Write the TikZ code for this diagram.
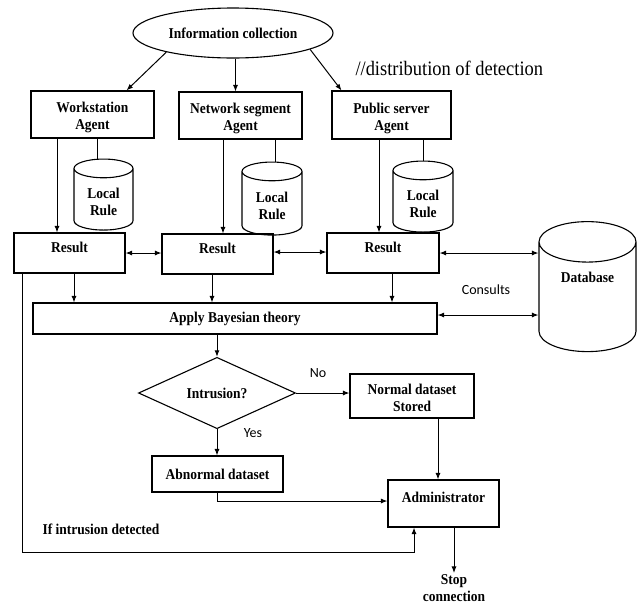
\documentclass[tikz,border=0pt]{standalone}
\usepackage{fontspec}
\newfontfamily\tnr[FakeStretch=0.9]{Liberation Serif}
\newfontfamily\calfont{Carlito}
\usetikzlibrary{arrows.meta,shapes.geometric}
\begin{document}
\begin{tikzpicture}[x=1pt,y=-1pt,
  line width=1pt, >={Latex[length=6.5pt,width=5pt]},
  bfont/.style={font=\tnr\bfseries\fontsize{15}{17}\selectfont},
  box/.style={bfont, draw, line width=1.1pt, rectangle, inner sep=0pt, align=center},
  twoline/.style={text height=30pt, text depth=0pt},
  cyl/.style={bfont, draw, line width=1.1pt, cylinder, shape border rotate=90, aspect=0.58, inner sep=0pt, align=center},
  lbl/.style={font=\calfont\fontsize{14}{16}\selectfont, inner sep=0pt}
]
\useasboundingbox (0,0) rectangle (639,606);

% top
\node[bfont, draw, line width=1.1pt, ellipse, minimum width=200pt, minimum height=50pt, inner sep=0pt] (info) at (233,33) {Information collection};
\node[font=\tnr\fontsize{20.5}{22}\selectfont, anchor=west, inner sep=0pt] (dist) at (355,68) {//distribution of detection};

% agents
\node[box, twoline, minimum width=123pt, minimum height=47pt] (ws) at (92.5,114.5) {Workstation\\Agent};
\node[box, twoline, minimum width=123pt, minimum height=47pt] (ns) at (240.5,115.5) {Network segment\\Agent};
\node[box, twoline, minimum width=119pt, minimum height=48pt] (ps) at (391.5,115) {Public server\\Agent};

% local rules
\node[cyl, minimum width=59pt, minimum height=71pt, text height=31pt, text depth=0pt] (lr1) at (103.5,199.5) {Local\\Rule};
\node[cyl, minimum width=60pt, minimum height=73pt, text height=31pt, text depth=0pt] (lr2) at (272,203.5) {Local\\Rule};
\node[cyl, minimum width=60pt, minimum height=71pt, text height=31pt, text depth=0pt] (lr3) at (423,201.5) {Local\\Rule};

% results
\node[box, minimum width=111pt, minimum height=40pt, text height=8pt, text depth=10pt] (r1) at (69.5,253) {Result};
\node[box, minimum width=111pt, minimum height=40pt, text height=8pt, text depth=10pt] (r2) at (217.5,254) {Result};
\node[box, minimum width=112pt, minimum height=40pt, text height=8pt, text depth=10pt] (r3) at (383,253) {Result};

% database
\node[cyl, aspect=0.76, minimum width=97pt, minimum height=130pt, text height=5pt, text depth=35pt] (db) at (587.5,297) {Database};
\node[lbl] (cons) at (486,290) {Consults};

% bayes
\node[box, minimum width=404pt, minimum height=31pt] (bay) at (235,318.5) {Apply Bayesian theory};

% decision
\node[bfont, draw, line width=1.1pt, diamond, minimum width=157pt, minimum height=53pt, inner sep=0pt] (intr) at (217,393) {Intrusion?};
\node[lbl] (no) at (318,373) {No};
\node[lbl] (yes) at (253,433) {Yes};

\node[box, twoline, minimum width=124pt, minimum height=44pt] (nds) at (412,396) {Normal dataset\\Stored};
\node[box, minimum width=131pt, minimum height=36pt] (abn) at (217.5,474) {Abnormal dataset};
\node[box, minimum width=111pt, minimum height=47pt, text height=8pt, text depth=11pt] (adm) at (443.5,503.5) {Administrator};

\node[bfont, anchor=west, inner sep=0pt] (ifd) at (42,529) {If intrusion detected};
\node[bfont, align=center, inner sep=1pt] (stop) at (454,588) {Stop\\connection};

\coordinate (fb) at (0,552);

% connectors
\draw[->] (info.196) -- ([xshift=34pt]ws.north);
\draw[->] ([xshift=2.5pt]info.south) -- ([xshift=2.5pt]info.south |- ns.north);
\draw[->] (info.-12) -- ([xshift=-50pt]ps.north);

\draw[->] ([xshift=-35.5pt]ws.south) -- ([xshift=-35.5pt]ws.south |- r1.north);
\draw ([xshift=-6.5pt]lr1.north |- ws.south) -- ([xshift=-6.5pt]lr1.north);
\draw[->] ([xshift=-17.5pt]ns.south) -- ([xshift=-17.5pt]ns.south |- r2.north);
\draw ([xshift=3pt]lr2.north |- ns.south) -- ([xshift=3pt]lr2.north);
\draw[->] ([xshift=-12.5pt]ps.south) -- ([xshift=-12.5pt]ps.south |- r3.north);
\draw (lr3.north |- ps.south) -- (lr3.north);

\draw[<->] (r1.east) -- (r1.east -| r2.west);
\draw[<->] ([yshift=2pt]r2.east) -- ([yshift=2pt]r2.east -| r3.west);
\draw[<->] (r3.east) -- (r3.east -| db.west);

\draw[->] ([xshift=4.5pt]r1.south) -- ([xshift=4.5pt]r1.south |- bay.north);
\draw[->] ([xshift=-5.5pt]r2.south) -- ([xshift=-5.5pt]r2.south |- bay.north);
\draw[->] ([xshift=9pt]r3.south) -- ([xshift=9pt]r3.south |- bay.north);
\draw[<->] ([yshift=3.5pt]bay.east) -- ([yshift=3.5pt]bay.east -| db.west);

\draw[->] (bay.south -| intr.north) -- (intr.north);
\draw[->] (intr.east) -- (intr.east -| nds.west);
\draw[->] (intr.south) -- (intr.south |- abn.north);
\draw[->] ([xshift=26pt]nds.south) -- ([xshift=26pt]nds.south |- adm.north);
\draw[->] (abn.south) |- ([yshift=2.5pt]adm.west);
\draw[->] ([xshift=-47pt]r1.south) -- ([xshift=-47pt]r1.south |- fb) -| ([xshift=-29.5pt]adm.south);
\draw[->] ([xshift=10.5pt]adm.south) -- ([xshift=10.5pt]adm.south |- stop.north);
\end{tikzpicture}
\end{document}
